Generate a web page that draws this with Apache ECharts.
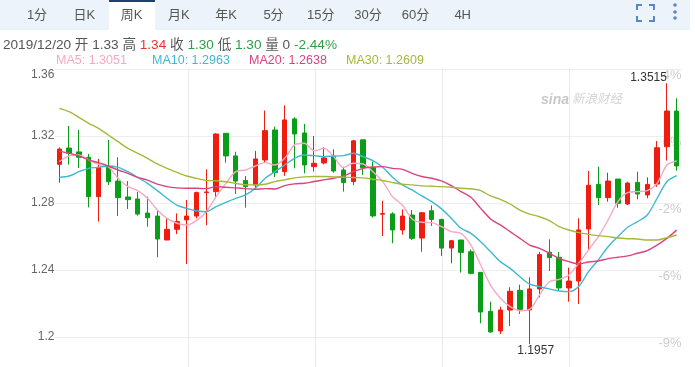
<!DOCTYPE html>
<html>
<head>
<meta charset="utf-8">
<style>
  html, body { margin: 0; padding: 0; background: #fff; }
  #main { width: 695px; height: 367px; }
</style>
<script src="https://cdn.jsdelivr.net/npm/echarts@6/dist/echarts.min.js"></script>
</head>
<body>
<div id="main"></div>
<script>
var categories = [
  '2018/10/05', '2018/10/12', '2018/10/19', '2018/10/26', '2018/11/02', '2018/11/09', '2018/11/16', '2018/11/23',
  '2018/11/30', '2018/12/07', '2018/12/14', '2018/12/21', '2018/12/28', '2019/01/04', '2019/01/11', '2019/01/18',
  '2019/01/25', '2019/02/01', '2019/02/08', '2019/02/15', '2019/02/22', '2019/03/01', '2019/03/08', '2019/03/15',
  '2019/03/22', '2019/03/29', '2019/04/05', '2019/04/12', '2019/04/19', '2019/04/26', '2019/05/03', '2019/05/10',
  '2019/05/17', '2019/05/24', '2019/05/31', '2019/06/07', '2019/06/14', '2019/06/21', '2019/06/28', '2019/07/05',
  '2019/07/12', '2019/07/19', '2019/07/26', '2019/08/02', '2019/08/09', '2019/08/16', '2019/08/23', '2019/08/30',
  '2019/09/06', '2019/09/13', '2019/09/20', '2019/09/27', '2019/10/04', '2019/10/11', '2019/10/18', '2019/10/25',
  '2019/11/01', '2019/11/08', '2019/11/15', '2019/11/22', '2019/11/29', '2019/12/06', '2019/12/13', '2019/12/20'
];
var opens = [
  1.3031, 1.3128, 1.3105, 1.3073, 1.2838, 1.3013, 1.2931, 1.2836, 1.2824, 1.2740, 1.2722, 1.2579, 1.2643, 1.2699, 1.2722, 1.2862,
  1.2868, 1.3216, 1.3081, 1.2935, 1.2908, 1.3057, 1.3236, 1.2987, 1.3302, 1.3218, 1.3017, 1.3039, 1.3077, 1.2997, 1.2928, 1.3177,
  1.3011, 1.2733, 1.2735, 1.2639, 1.2728, 1.2591, 1.2754, 1.2702, 1.2531, 1.2579, 1.2509, 1.2386, 1.2153, 1.2036, 1.2161, 1.2279,
  1.2161, 1.2287, 1.2506, 1.2476, 1.2293, 1.2334, 1.2645, 1.2911, 1.2832, 1.2943, 1.2794, 1.2923, 1.2848, 1.2913, 1.3136, 1.3349
];
var closes = [
  1.3122, 1.3097, 1.3073, 1.2838, 1.3013, 1.2927, 1.2832, 1.2820, 1.2734, 1.2712, 1.2585, 1.2643, 1.2689, 1.2722, 1.2862, 1.2866,
  1.3212, 1.3081, 1.2931, 1.2898, 1.3063, 1.3232, 1.2981, 1.3296, 1.3212, 1.3027, 1.3037, 1.3069, 1.2991, 1.2922, 1.3171, 1.3011,
  1.2723, 1.2737, 1.2639, 1.2722, 1.2589, 1.2742, 1.2702, 1.2531, 1.2575, 1.2505, 1.2380, 1.2149, 1.2030, 1.2161, 1.2273, 1.2165,
  1.2287, 1.2492, 1.2474, 1.2293, 1.2334, 1.2639, 1.2906, 1.2832, 1.2931, 1.2798, 1.2919, 1.2854, 1.2911, 1.3130, 1.3349, 1.3021
];
var lows = [
  1.2921, 1.3029, 1.3009, 1.2774, 1.2689, 1.2907, 1.2722, 1.2764, 1.2724, 1.2659, 1.2476, 1.2579, 1.2615, 1.2436, 1.2708, 1.2667,
  1.2828, 1.3041, 1.2854, 1.2772, 1.2878, 1.3041, 1.2954, 1.2962, 1.3007, 1.2977, 1.2987, 1.3031, 1.2981, 1.2868, 1.2906, 1.2968,
  1.2713, 1.2603, 1.2560, 1.2611, 1.2579, 1.2509, 1.2663, 1.2484, 1.2440, 1.2384, 1.2374, 1.2082, 1.2026, 1.2018, 1.2066, 1.2137,
  1.1957, 1.2237, 1.2394, 1.2277, 1.2211, 1.2197, 1.2519, 1.2788, 1.2808, 1.2772, 1.2788, 1.2822, 1.2828, 1.2897, 1.3053, 1.2993
];
var highs = [
  1.3132, 1.3260, 1.3236, 1.3093, 1.3063, 1.3176, 1.3073, 1.2931, 1.2866, 1.2838, 1.2758, 1.2708, 1.2738, 1.2818, 1.2868, 1.3001,
  1.3216, 1.3216, 1.3106, 1.2961, 1.3111, 1.3352, 1.3256, 1.3383, 1.3312, 1.3272, 1.3200, 1.3133, 1.3121, 1.3017, 1.3177, 1.3177,
  1.3047, 1.2814, 1.2745, 1.2762, 1.2758, 1.2746, 1.2786, 1.2706, 1.2579, 1.2579, 1.2523, 1.2386, 1.2211, 1.2181, 1.2297, 1.2312,
  1.2356, 1.2508, 1.2583, 1.2508, 1.2414, 1.2709, 1.2991, 1.3017, 1.2981, 1.2943, 1.2927, 1.2987, 1.2953, 1.3170, 1.3515, 1.3425
];
var ma5 = [
  1.3047, 1.3081, 1.3087, 1.3057, 1.3031, 1.3017, 1.2947, 1.2898, 1.2874, 1.2828, 1.2758, 1.2708, 1.2679, 1.2669, 1.2695, 1.2748,
  1.2838, 1.2917, 1.2987, 1.2997, 1.3021, 1.3041, 1.3027, 1.3067, 1.3147, 1.3157, 1.3111, 1.3127, 1.3077, 1.3011, 1.3037, 1.3033,
  1.2987, 1.2928, 1.2838, 1.2788, 1.2705, 1.2685, 1.2683, 1.2659, 1.2629, 1.2619, 1.2549, 1.2430, 1.2310, 1.2231, 1.2181, 1.2157,
  1.2165, 1.2251, 1.2330, 1.2344, 1.2370, 1.2440, 1.2519, 1.2599, 1.2699, 1.2808, 1.2862, 1.2868, 1.2874, 1.2917, 1.3027, 1.3051
];
var ma10 = [
  1.2953, 1.2961, 1.2987, 1.3007, 1.3013, 1.3021, 1.3013, 1.2987, 1.2953, 1.2917, 1.2874, 1.2828, 1.2788, 1.2768, 1.2754, 1.2748,
  1.2778, 1.2804, 1.2828, 1.2848, 1.2888, 1.2948, 1.2987, 1.3027, 1.3067, 1.3087, 1.3083, 1.3077, 1.3081, 1.3083, 1.3097, 1.3077,
  1.3053, 1.3013, 1.2954, 1.2908, 1.2878, 1.2842, 1.2808, 1.2765, 1.2709, 1.2649, 1.2619, 1.2569, 1.2510, 1.2450, 1.2410, 1.2360,
  1.2315, 1.2301, 1.2287, 1.2275, 1.2271, 1.2301, 1.2390, 1.2460, 1.2539, 1.2599, 1.2655, 1.2689, 1.2728, 1.2828, 1.2927, 1.2963
];
var ma20 = [
  1.3110, 1.3097, 1.3081, 1.3057, 1.3041, 1.3021, 1.2997, 1.2977, 1.2953, 1.2937, 1.2913, 1.2898, 1.2890, 1.2888, 1.2888, 1.2886,
  1.2898, 1.2894, 1.2890, 1.2886, 1.2882, 1.2886, 1.2884, 1.2904, 1.2914, 1.2918, 1.2928, 1.2938, 1.2948, 1.2962, 1.2987, 1.3007,
  1.3015, 1.3017, 1.3007, 1.3001, 1.2977, 1.2958, 1.2948, 1.2932, 1.2904, 1.2868, 1.2834, 1.2768, 1.2705, 1.2669, 1.2629, 1.2589,
  1.2549, 1.2529, 1.2500, 1.2470, 1.2450, 1.2436, 1.2448, 1.2454, 1.2468, 1.2476, 1.2484, 1.2500, 1.2516, 1.2549, 1.2589, 1.2638
];
var ma30 = [
  1.3365, 1.3345, 1.3311, 1.3276, 1.3246, 1.3206, 1.3166, 1.3126, 1.3097, 1.3067, 1.3033, 1.3007, 1.2983, 1.2961, 1.2947, 1.2935,
  1.2933, 1.2927, 1.2917, 1.2909, 1.2908, 1.2912, 1.2928, 1.2938, 1.2950, 1.2956, 1.2958, 1.2958, 1.2956, 1.2954, 1.2952, 1.2950,
  1.2942, 1.2934, 1.2922, 1.2912, 1.2908, 1.2902, 1.2900, 1.2898, 1.2894, 1.2888, 1.2885, 1.2874, 1.2842, 1.2822, 1.2794, 1.2758,
  1.2734, 1.2718, 1.2695, 1.2659, 1.2639, 1.2623, 1.2613, 1.2605, 1.2599, 1.2591, 1.2587, 1.2585, 1.2579, 1.2579, 1.2593, 1.2609
];
var tabLabels = ['1分', '日K', '周K', '月K', '年K', '5分', '15分', '30分', '60分', '4H'];
var priceTicks = ['', '1.2', '1.24', '1.28', '1.32', '1.36'];
var percentTicks = ['', '-9%', '-6%', '-2%', '0%', '4%'];

var FONT = '"Liberation Sans", "Noto Sans CJK SC", sans-serif';
var RED = '#f01c10';
var GREEN = '#0a9e18';
var MA_COLORS = { MA5: '#f6a9c0', MA10: '#3fb9cf', MA20: '#d9447f', MA30: '#a6b83a' };

var last = categories.length - 1;
var candles = [];
for (var i = 0; i < categories.length; i++) {
  candles.push([opens[i], closes[i], lows[i], highs[i]]);
}

// 顶部标签栏
var graphics = [
  { type: 'rect', shape: { x: 0, y: 0, width: 690, height: 30 }, style: { fill: '#edf3fa' }, silent: true },
  { type: 'rect', shape: { x: 109, y: 0, width: 46, height: 30 }, style: { fill: '#fff' }, silent: true },
  { type: 'rect', shape: { x: 109, y: 0, width: 46, height: 2 }, style: { fill: '#1d3f72' }, silent: true }
];
tabLabels.forEach(function(t, k) {
  graphics.push({
    type: 'text', x: 37 + 47.3 * k, y: 15,
    style: { text: t, fill: '#555', font: '13px ' + FONT, textAlign: 'center', textVerticalAlign: 'middle' }
  });
});

// 全屏和菜单图标
var iconStyle = { stroke: '#5b87c0', lineWidth: 2, fill: null };
[
  [[637, 10], [637, 5], [642, 5]], [[649, 5], [654, 5], [654, 10]],
  [[637, 16], [637, 21], [642, 21]], [[649, 21], [654, 21], [654, 16]]
].forEach(function(p) {
  graphics.push({ type: 'polyline', shape: { points: p }, style: iconStyle, silent: true });
});
[5, 12, 18].forEach(function(cy) {
  graphics.push({ type: 'circle', shape: { cx: 675, cy: cy, r: 1.8 }, style: { fill: '#5b87c0' }, silent: true });
});

// 当前K线信息
graphics.push({
  type: 'text', x: 3, y: 45,
  style: {
    text: '{g|' + categories[last] + ' 开 ' + opens[last].toFixed(2) + ' 高 }{r|' + highs[last].toFixed(2) + '}{g| 收 }{d|' +
      closes[last].toFixed(2) + '}{g| 低 }{d|' + lows[last].toFixed(2) + '}{g| 量 0 }{d|-2.44%}',
    textVerticalAlign: 'middle',
    rich: {
      g: { fill: '#555', font: '13.6px ' + FONT },
      r: { fill: '#e8352b', font: '13.6px ' + FONT },
      d: { fill: '#2f9e44', font: '13.6px ' + FONT }
    }
  }
});

// MA图例
[['MA5', ma5, 56], ['MA10', ma10, 152], ['MA20', ma20, 249], ['MA30', ma30, 346]].forEach(function(m) {
  graphics.push({
    type: 'text', x: m[2], y: 61,
    style: {
      text: m[0] + ': ' + m[1][last].toFixed(4), fill: MA_COLORS[m[0]],
      font: '12.5px ' + FONT, textVerticalAlign: 'middle'
    }
  });
});

// 水印
graphics.push({
  type: 'text', x: 541, y: 100, z: -1,
  style: { text: 'sina', fill: '#c8c8c8', font: 'italic bold 14px ' + FONT, textVerticalAlign: 'middle' }
});
graphics.push({
  type: 'text', x: 572, y: 100, z: -1,
  style: { text: '新浪财经', fill: '#d4d4d4', font: 'italic 12.5px ' + FONT, textVerticalAlign: 'middle' }
});

function maSeries(name, data) {
  return {
    name: name,
    type: 'line',
    data: data,
    smooth: 0.3,
    showSymbol: false,
    silent: true,
    z: 3,
    lineStyle: { width: 1.4, color: MA_COLORS[name] },
    itemStyle: { color: MA_COLORS[name] }
  };
}

var chart = echarts.init(document.getElementById('main'));
chart.setOption({
  animation: false,
  backgroundColor: '#fff',
  textStyle: { fontFamily: FONT },
  graphic: graphics,
  grid: [
    { left: 54.4, width: 627.2, top: 69, height: 335, outerBoundsMode: 'none' },
    // 季度竖线，每13根K线一条
    { left: 61, width: 635, top: 69, height: 298, outerBoundsMode: 'none' }
  ],
  xAxis: [
    {
      type: 'category',
      gridIndex: 0,
      data: categories,
      axisLine: { show: false },
      axisTick: { show: false },
      axisLabel: { show: false },
      splitLine: { show: false }
    },
    {
      type: 'value',
      gridIndex: 1,
      min: 0,
      max: 5,
      interval: 1,
      axisLine: { show: false },
      axisTick: { show: false },
      axisLabel: { show: false },
      splitLine: { show: true, showMinLine: false, showMaxLine: false, lineStyle: { color: '#e6e9ee', width: 1 } }
    }
  ],
  yAxis: [
    {
      type: 'value',
      gridIndex: 0,
      min: 1.16,
      max: 1.36,
      interval: 0.04,
      axisLine: { show: false },
      axisTick: { show: false },
      axisLabel: {
        color: '#666',
        fontSize: 12,
        margin: 0,
        verticalAlignMaxLabel: 'top',
        formatter: function(v, idx) { return priceTicks[idx]; }
      },
      splitLine: {
        showMinLine: false,
        lineStyle: { color: '#eeeeee', width: 1 }
      }
    },
    {
      type: 'value',
      gridIndex: 0,
      position: 'right',
      min: 1.16,
      max: 1.36,
      interval: 0.04,
      axisLine: { show: false },
      axisTick: { show: false },
      splitLine: { show: false },
      axisLabel: {
        inside: true,
        color: '#cccccc',
        fontSize: 13,
        margin: 0,
        verticalAlign: 'top',
        formatter: function(v, idx) { return percentTicks[idx]; }
      }
    },
    {
      type: 'value',
      gridIndex: 1,
      min: 0,
      max: 1,
      show: false
    }
  ],
  series: [
    {
      name: 'K',
      type: 'candlestick',
      data: candles,
      barWidth: 5,
      silent: true,
      itemStyle: { color: RED, color0: GREEN, borderColor: RED, borderColor0: GREEN, borderWidth: 1 },
      markPoint: {
        symbol: 'circle',
        symbolSize: 0,
        silent: true,
        data: [
          {
            type: 'max', valueDim: 'highest',
            label: { show: true, formatter: '{c}', color: '#333', fontSize: 12, position: 'left', distance: 0, offset: [0, -6] }
          },
          {
            type: 'min', valueDim: 'lowest',
            label: { show: true, formatter: '{c}', color: '#333', fontSize: 12, position: 'bottom', distance: 0, offset: [6, 0] }
          }
        ]
      }
    },
    maSeries('MA5', ma5),
    maSeries('MA10', ma10),
    maSeries('MA20', ma20),
    maSeries('MA30', ma30)
  ]
});
</script>
</body>
</html>
